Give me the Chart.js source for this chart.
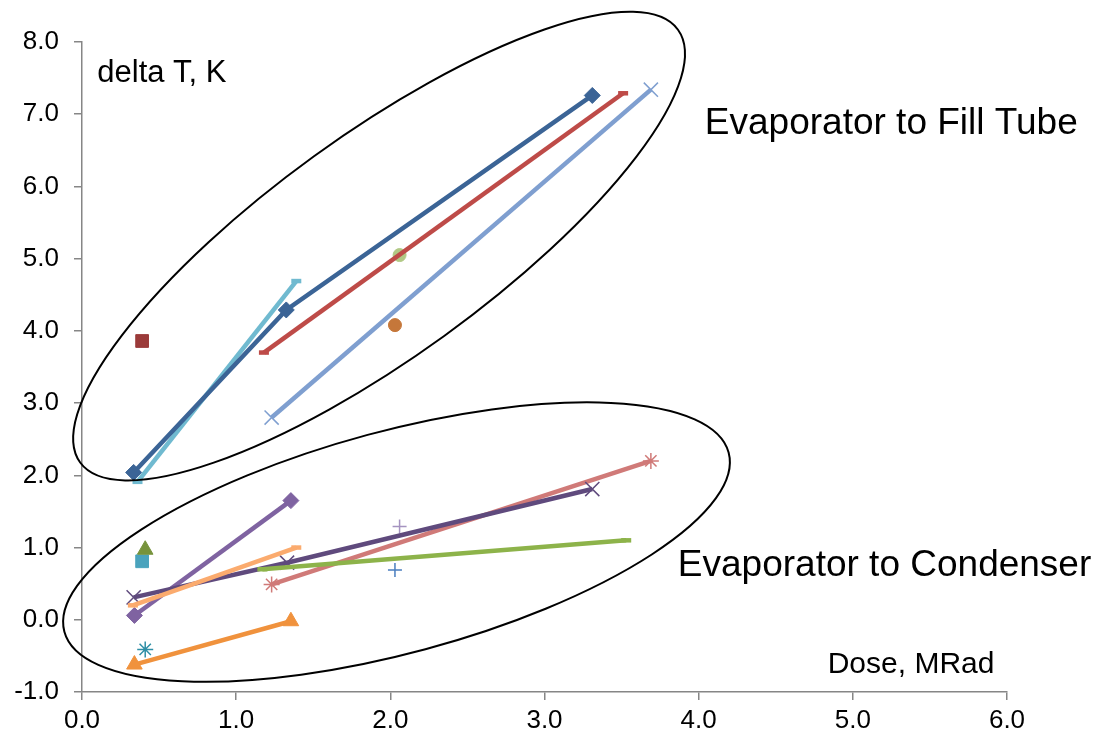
<!DOCTYPE html>
<html>
<head>
<meta charset="utf-8">
<script src="https://cdn.jsdelivr.net/npm/chart.js@4.4.1/dist/chart.umd.min.js"></script>
<style>
  html, body { margin: 0; padding: 0; background: #fff; }
  #wrap { width: 1095px; height: 741px; }
</style>
</head>
<body>
<div id="wrap"><canvas id="doseChart"></canvas></div>
<script>
// axis ticks
const xTicks = [0, 1, 2, 3, 4, 5, 6];
const yTicks = [-1, 0, 1, 2, 3, 4, 5, 6, 7, 8];

// evaporator to fill tube
const ftDiamondX = [0.335, 1.325, 3.31];
const ftDiamondY = [2.04, 4.29, 7.26];
const ftRedX = [1.18, 3.51];
const ftRedY = [3.70, 7.29];
const ftCrossX = [1.23, 3.69];
const ftCrossY = [2.80, 7.34];
const ftCyanX = [0.36, 1.39];
const ftCyanY = [1.91, 4.69];
const ftSquareX = [0.39];
const ftSquareY = [3.86];
const ftGreenDotX = [2.06];
const ftGreenDotY = [5.05];
const ftOrangeDotX = [2.03];
const ftOrangeDotY = [4.08];

// evaporator to condenser
const cdDiamondX = [0.34, 1.355];
const cdDiamondY = [0.06, 1.65];
const cdTriGreenX = [0.41];
const cdTriGreenY = [0.97];
const cdSquareX = [0.39];
const cdSquareY = [0.81];
const cdCrossX = [0.335, 1.33, 3.31];
const cdCrossY = [0.31, 0.79, 1.81];
const cdPeachX = [0.33, 1.39];
const cdPeachY = [0.20, 1.00];
const cdGreenX = [1.17, 3.53];
const cdGreenY = [0.70, 1.10];
const cdStarX = [1.23, 3.69];
const cdStarY = [0.49, 2.20];
const cdPlusPurpleX = [2.06];
const cdPlusPurpleY = [1.29];
const cdPlusBlueX = [2.03];
const cdPlusBlueY = [0.69];
const cdStarTealX = [0.41];
const cdStarTealY = [-0.41];
const cdTriX = [0.34, 1.355];
const cdTriY = [-0.62, -0.02];

function pts(xs, ys) {
    return xs.map((x, i) => ({ x: x, y: ys[i] }));
}

function series(xs, ys, color, style, radius, line, bw) {
    return {
        data: pts(xs, ys),
        showLine: line,
        borderColor: color,
        backgroundColor: color,
        borderWidth: 4.5,
        pointStyle: style,
        pointRadius: radius,
        pointBorderWidth: bw,
        pointBackgroundColor: color,
        pointBorderColor: color
    };
}

const datasets = [
    series(ftDiamondX, ftDiamondY, '#3b6496', 'rectRot', 8, true, 1),
    series(ftRedX, ftRedY, '#be4b48', 'line', 5, true, 4.5),
    series(ftCrossX, ftCrossY, '#7f9fd0', 'crossRot', 10, true, 1.5),
    series(ftCyanX, ftCyanY, '#70bad0', 'line', 5, true, 4.5),
    series(ftSquareX, ftSquareY, '#9b3b3a', 'rect', 9, false, 1),
    series(ftGreenDotX, ftGreenDotY, '#b1c985', 'circle', 6.5, false, 1),
    series(ftOrangeDotX, ftOrangeDotY, '#c5773a', 'circle', 6.5, false, 1),
    series(cdGreenX, cdGreenY, '#8db34a', 'line', 5, true, 4.5),
    series(cdPeachX, cdPeachY, '#fbab6e', 'line', 5, true, 4.5),
    series(cdCrossX, cdCrossY, '#5f4a7d', 'crossRot', 10, true, 1.5),
    series(cdStarX, cdStarY, '#d07a78', 'star', 8, true, 1.5),
    series(cdDiamondX, cdDiamondY, '#7f63a1', 'rectRot', 8, true, 1),
    series(cdTriGreenX, cdTriGreenY, '#77933c', 'triangle', 9, false, 1),
    series(cdSquareX, cdSquareY, '#4aa3bd', 'rect', 9, false, 1),
    series(cdPlusPurpleX, cdPlusPurpleY, '#a593c0', 'cross', 7, false, 1.5),
    series(cdPlusBlueX, cdPlusBlueY, '#4a7ebf', 'cross', 7, false, 1.5),
    series(cdStarTealX, cdStarTealY, '#2f8fa6', 'star', 8, false, 1.5),
    series(cdTriX, cdTriY, '#f0923d', 'triangle', 9, true, 1)
];

// hand drawn rings and free text, anchored to data space
const rings = [
    { x: 1.927, y: 5.174, rx: 369, ry: 111, deg: -35.9 },
    { x: 2.04, y: 1.076, rx: 344, ry: 111, deg: -15.1 }
];
const notes = [
    { text: 'delta T, K', x: 0.099, y: 7.566, size: 31 },
    { text: 'Evaporator to Fill Tube', x: 4.04, y: 6.874, size: 37 },
    { text: 'Evaporator to Condenser', x: 3.865, y: 0.747, size: 37 },
    { text: 'Dose, MRad', x: 4.837, y: -0.622, size: 30 }
];

const decor = {
    id: 'decor',
    afterDatasetsDraw(chart) {
        const { ctx, scales } = chart;
        ctx.save();
        ctx.strokeStyle = '#000';
        ctx.lineWidth = 2;
        rings.forEach(r => {
            ctx.beginPath();
            ctx.ellipse(scales.x.getPixelForValue(r.x), scales.y.getPixelForValue(r.y),
                r.rx, r.ry, r.deg * Math.PI / 180, 0, Math.PI * 2);
            ctx.stroke();
        });
        ctx.fillStyle = '#000';
        ctx.textAlign = 'left';
        ctx.textBaseline = 'middle';
        notes.forEach(n => {
            ctx.font = n.size + 'px "Liberation Sans", Arial, sans-serif';
            ctx.fillText(n.text, scales.x.getPixelForValue(n.x), scales.y.getPixelForValue(n.y));
        });
        ctx.restore();
    }
};

const ctx = document.getElementById('doseChart').getContext('2d');
const doseChart = new Chart(ctx, {
    type: 'scatter',
    data: { datasets: datasets },
    options: {
        responsive: true,
        maintainAspectRatio: false,
        animation: false,
        layout: { padding: { left: 0, top: 42, right: 88, bottom: 0 } },
        plugins: { legend: { display: false }, tooltip: { enabled: false } },
        elements: { line: { tension: 0 } },
        scales: {
            x: {
                type: 'linear',
                min: 0, max: 6,
                afterFit: s => { s.height = 49; },
                afterBuildTicks: s => { s.ticks = xTicks.map(v => ({ value: v })); },
                ticks: {
                    color: '#000',
                    padding: 5,
                    font: { family: '"Liberation Sans", Arial', size: 26 },
                    callback: v => v.toFixed(1)
                },
                grid: { drawOnChartArea: false, tickLength: 8, color: '#868686', lineWidth: 1.5 },
                border: { color: '#868686', width: 1.5 }
            },
            y: {
                type: 'linear',
                min: -1, max: 8,
                afterFit: s => { s.width = 82; },
                afterBuildTicks: s => { s.ticks = yTicks.map(v => ({ value: v })); },
                ticks: {
                    color: '#000',
                    padding: 15,
                    font: { family: '"Liberation Sans", Arial', size: 26 },
                    callback: v => v.toFixed(1)
                },
                grid: { drawOnChartArea: false, tickLength: 8, color: '#868686', lineWidth: 1.5 },
                border: { color: '#868686', width: 1.5 }
            }
        }
    },
    plugins: [decor]
});
</script>
</body>
</html>
